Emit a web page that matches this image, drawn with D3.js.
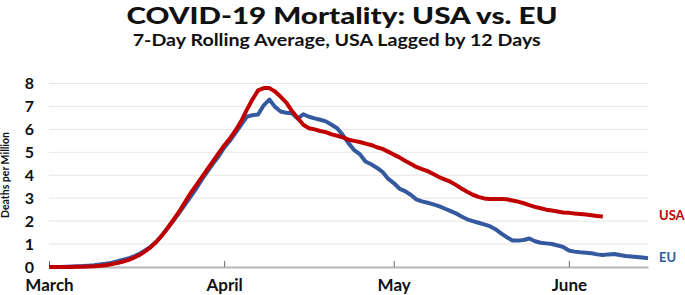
<!DOCTYPE html>
<html>
<head>
<meta charset="utf-8">
<script src="https://cdn.jsdelivr.net/npm/d3@7"></script>
<style>
  html, body { margin: 0; padding: 0; background: #fff; }
  svg { display: block; font-family: Lato, "Open Sans", sans-serif; }
</style>
</head>
<body>
<svg id="chart" width="685" height="295"></svg>
<script>
// ---- data ----
const startDate = Date.UTC(2020, 2, 1);   // March 1 (day 0)
const endDay = 106;                       // right edge of the plot (~June 15)

// EU: 7-day rolling average deaths per million, one value per day from March 1
const euValues = [
  0, 0, 0, 0.01, 0.02, 0.03, 0.04, 0.06, 0.08, 0.11,
  0.14, 0.18, 0.24, 0.31, 0.37, 0.46, 0.58, 0.72, 0.88, 1.1,
  1.38, 1.7, 2.02, 2.35, 2.7, 3.05, 3.4, 3.8, 4.15, 4.5,
  4.82, 5.2, 5.5, 5.85, 6.2, 6.55, 6.62, 6.65, 7.05, 7.3,
  6.98, 6.78, 6.72, 6.7, 6.47, 6.66, 6.55, 6.48, 6.42, 6.35,
  6.2, 6.05, 5.75, 5.4, 5.1, 4.92, 4.6, 4.48, 4.33, 4.15,
  3.85, 3.66, 3.42, 3.31, 3.15, 2.95, 2.86, 2.8, 2.73, 2.65,
  2.55, 2.45, 2.34, 2.2, 2.08, 2.0, 1.93, 1.86, 1.78, 1.65,
  1.47, 1.3, 1.16, 1.15, 1.18, 1.24, 1.12, 1.06, 1.03, 1.0,
  0.94, 0.87, 0.72, 0.67, 0.64, 0.62, 0.6, 0.55, 0.52, 0.55,
  0.57, 0.52, 0.48, 0.46, 0.44, 0.41, 0.38
];

// USA (lagged by 12 days): one value per day from March 1
const usaValues = [
  0, 0, 0, 0, 0, 0.01, 0.01, 0.02, 0.03, 0.05,
  0.08, 0.12, 0.17, 0.23, 0.3, 0.4, 0.52, 0.68, 0.87, 1.1,
  1.38, 1.7, 2.05, 2.4, 2.8, 3.2, 3.55, 3.9, 4.25, 4.6,
  4.95, 5.3, 5.6, 5.95, 6.35, 6.85, 7.3, 7.7, 7.8, 7.8,
  7.65, 7.42, 7.17, 6.8, 6.5, 6.2, 6.05, 6.0, 5.93, 5.88,
  5.78, 5.72, 5.65, 5.55, 5.5, 5.45, 5.38, 5.32, 5.22, 5.15,
  5.03, 4.9, 4.78, 4.63, 4.5, 4.36, 4.27, 4.18, 4.05, 3.92,
  3.82, 3.72, 3.58, 3.42, 3.28, 3.15, 3.06, 2.99, 2.96, 2.97,
  2.97, 2.95, 2.9, 2.85, 2.78, 2.7, 2.62, 2.56, 2.5, 2.46,
  2.42, 2.38, 2.36, 2.33, 2.31, 2.29, 2.26, 2.22, 2.2
];

const yTicks = [0, 1, 2, 3, 4, 5, 6, 7, 8];
const monthTicks = ["2020-03-01", "2020-04-01", "2020-05-01", "2020-06-01"];
const monthLabels = ["March", "April", "May", "June"];
const seriesNames = ["EU", "USA"];
const titleText = "COVID-19 Mortality: USA vs. EU";
const subtitleText = "7-Day Rolling Average, USA Lagged by 12 Days";
const yTitle = "Deaths per Million";

// ---- drawing ----
const DAY = 86400000;
const toDate = d => new Date(startDate + d * DAY);
const svg = d3.select("#chart");

const x = d3.scaleUtc()
  .domain([toDate(0), toDate(endDay)])
  .range([49, 648]);
const y = d3.scaleLinear().domain([0, 8]).range([267, 83.5]);

svg.append("text")
  .attr("x", 342).attr("y", 23.5)
  .attr("text-anchor", "middle")
  .attr("font-size", 23.5).attr("font-weight", 900)
  .attr("textLength", 431).attr("lengthAdjust", "spacingAndGlyphs")
  .attr("fill", "#111")
  .text(titleText);

svg.append("text")
  .attr("x", 336.7).attr("y", 45.5)
  .attr("text-anchor", "middle")
  .attr("font-size", 17.5).attr("font-weight", 700)
  .attr("textLength", 408).attr("lengthAdjust", "spacingAndGlyphs")
  .attr("fill", "#111")
  .text(subtitleText);

// gridlines
svg.append("g")
  .selectAll("line")
  .data(yTicks.filter(v => v > 0))
  .join("line")
  .attr("x1", x.range()[0]).attr("x2", x.range()[1])
  .attr("y1", d => y(d)).attr("y2", d => y(d))
  .attr("stroke", "#e6e6e6").attr("stroke-width", 1);

// y axis labels
const yAxis = d3.axisLeft(y).tickValues(yTicks).tickSize(0).tickPadding(0).tickFormat(d3.format("d"));
svg.append("g")
  .attr("transform", "translate(34,0)")
  .call(yAxis)
  .call(g => g.select(".domain").remove())
  .call(g => g.selectAll("text")
    .attr("font-family", "Lato, sans-serif")
    .attr("font-size", 16).attr("font-weight", 700).attr("fill", "#111"));

// x axis
const xAxis = d3.axisBottom(x)
  .tickValues(monthTicks.map(s => new Date(s + "T00:00:00Z")))
  .tickSize(0)
  .tickFormat((d, i) => monthLabels[i]);
const xg = svg.append("g")
  .attr("transform", `translate(0,${y(0)})`)
  .call(xAxis);
xg.select(".domain").attr("stroke", "#b5b5b5").attr("stroke-width", 2);
xg.selectAll(".tick line").remove();
xg.selectAll(".tick").append("line")
  .attr("y1", 0).attr("y2", -6)
  .attr("stroke", "#666").attr("stroke-width", 1);
xg.selectAll(".tick text")
  .attr("y", 24).attr("dy", 0)
  .attr("font-family", "Lato, sans-serif")
  .attr("font-size", 17).attr("font-weight", 700).attr("fill", "#111");

// y title
svg.append("text")
  .attr("transform", "translate(9,175) rotate(-90)")
  .attr("text-anchor", "middle")
  .attr("font-size", 10.5).attr("font-weight", 700).attr("fill", "#111")
  .text(yTitle);

// lines
const line = d3.line()
  .x((d, i) => x(toDate(i)))
  .y(d => y(d));

svg.append("path")
  .datum(euValues)
  .attr("fill", "none").attr("stroke", "#34599e").attr("stroke-width", 4)
  .attr("stroke-linejoin", "round")
  .attr("d", line);

svg.append("path")
  .datum(usaValues)
  .attr("fill", "none").attr("stroke", "#c00000").attr("stroke-width", 4)
  .attr("stroke-linejoin", "round")
  .attr("d", line);

// series labels
svg.append("text")
  .attr("x", 659).attr("y", 220)
  .attr("font-size", 13).attr("font-weight", 700).attr("fill", "#c00000")
  .text(seriesNames[1]);
svg.append("text")
  .attr("x", 659).attr("y", 261.5)
  .attr("font-size", 13).attr("font-weight", 700).attr("fill", "#34599e")
  .text(seriesNames[0]);
</script>
</body>
</html>
